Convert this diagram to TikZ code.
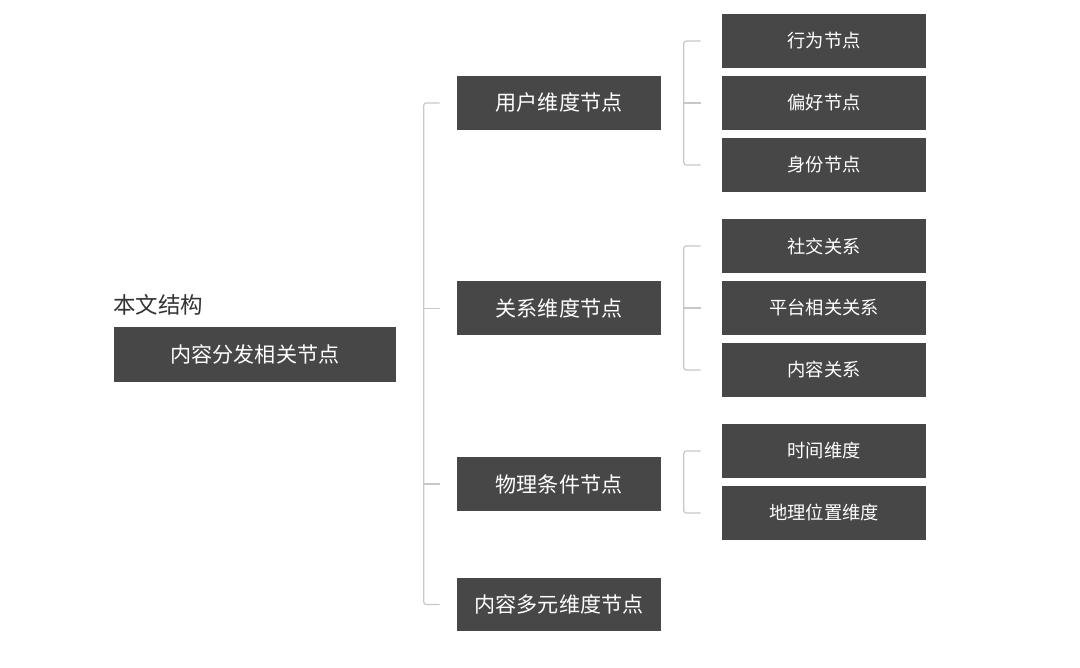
\documentclass[tikz,border=0pt]{standalone}
\usepackage{fontspec}
\setmainfont{Noto Sans CJK SC}
\definecolor{boxgray}{HTML}{474747}
\definecolor{linegray}{HTML}{C8C8C8}
\definecolor{titlegray}{HTML}{333333}
\begin{document}
\begin{tikzpicture}[x=0.02cm,y=-0.02cm,
	mainbox/.style={rectangle,fill=boxgray,text=white,minimum width=4.08cm,minimum height=1.08cm,inner sep=0pt,font=\fontsize{12}{14}\selectfont},
	subbox/.style={mainbox,font=\fontsize{10.4}{12}\selectfont},
	bracket/.style={draw=linegray,line width=0.7pt,rounded corners=1.5pt}]
	\useasboundingbox (0,0) rectangle (1080,668);
	% root
	\node[anchor=west,inner sep=0pt,text=titlegray,font=\fontsize{12.8}{15}\selectfont] (title) at (113,305) {本文结构};
	\node[mainbox,minimum width=5.64cm,minimum height=1.1cm] (root) at (255,354.5) {内容分发相关节点};
	% first level
	\node[mainbox] (user) at (559,103) {用户维度节点};
	\node[mainbox] (rel) at (559,308.5) {关系维度节点};
	\node[mainbox] (phys) at (559,484) {物理条件节点};
	\node[mainbox] (multi) at (559,604.5) {内容多元维度节点};
	% second level
	\node[subbox] (act) at (824,41) {行为节点};
	\node[subbox] (pref) at (824,103) {偏好节点};
	\node[subbox] (ident) at (824,165) {身份节点};
	\node[subbox] (social) at (824,246) {社交关系};
	\node[subbox] (plat) at (824,308) {平台相关关系};
	\node[subbox] (content) at (824,370) {内容关系};
	\node[subbox] (time) at (824,451) {时间维度};
	\node[subbox] (geo) at (824,513) {地理位置维度};
	% brackets
	\draw[bracket] ([xshift=-0.34cm]user.west) -| ([xshift=-0.66cm]multi.west) -- ([xshift=-0.34cm]multi.west);
	\draw[bracket] ([xshift=-0.66cm]rel.west) -- ([xshift=-0.34cm]rel.west);
	\draw[bracket] ([xshift=-0.66cm]phys.west) -- ([xshift=-0.34cm]phys.west);
	\draw[bracket] ([xshift=-0.42cm]act.west) -| ([xshift=-0.76cm]ident.west) -- ([xshift=-0.42cm]ident.west);
	\draw[bracket] ([xshift=-0.76cm]pref.west) -- ([xshift=-0.42cm]pref.west);
	\draw[bracket] ([xshift=-0.42cm]social.west) -| ([xshift=-0.76cm]content.west) -- ([xshift=-0.42cm]content.west);
	\draw[bracket] ([xshift=-0.76cm]plat.west) -- ([xshift=-0.42cm]plat.west);
	\draw[bracket] ([xshift=-0.42cm]time.west) -| ([xshift=-0.76cm]geo.west) -- ([xshift=-0.42cm]geo.west);
\end{tikzpicture}
\end{document}
